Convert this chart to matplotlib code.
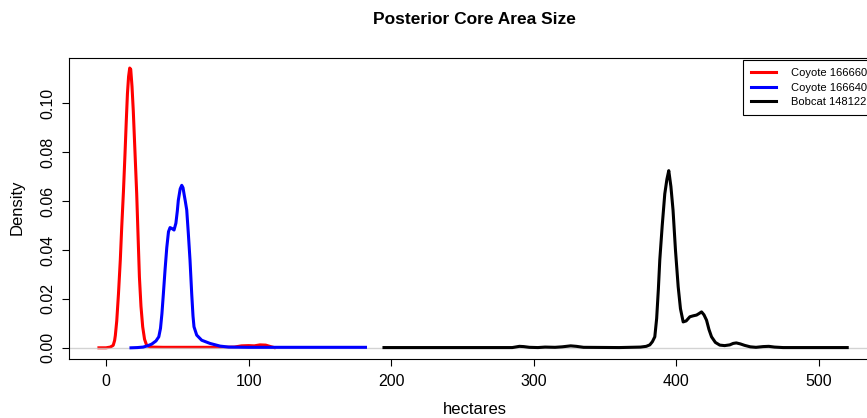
import matplotlib
matplotlib.use("Agg")
import matplotlib.pyplot as plt

plt.rcParams['font.family'] = ['Liberation Sans', 'DejaVu Sans']

title = "Posterior Core Area Size"
xlabel = "hectares"
ylabel = "Density"
labels = ["Coyote 166660", "Coyote 166640", "Bobcat 148122"]
colors = ["#ff0000", "#0000ff", "#000000"]

red_x = [-5, 0, 3, 5, 6, 6.5, 7.5, 8.7, 10, 11, 12.2, 13.3, 14.2, 15, 15.8, 16.6, 17.3,
         18.2, 19.1, 20.3, 21.5, 22.5, 23.4, 24.5, 25.7, 27, 28.5, 31, 40, 60, 80, 90,
         95, 100, 104, 108, 112, 116, 118]
red_y = [0.0, 0.0, 0.0003, 0.001, 0.003, 0.005, 0.011, 0.022, 0.036, 0.0495, 0.064,
         0.0795, 0.093, 0.104, 0.111, 0.1145, 0.114, 0.107, 0.097, 0.08, 0.063, 0.045,
         0.029, 0.017, 0.0086, 0.0035, 0.001, 0.0003, 0.0002, 0.0002, 0.0002, 0.0003,
         0.0008, 0.0009, 0.0008, 0.0012, 0.0011, 0.0004, 0.0001]

blue_x = [17.5, 22, 26, 29, 32, 35, 37, 38.2, 39.2, 40.2, 41.4, 42.6, 43.8, 44.9, 46.3,
          47.7, 49, 50, 50.7, 52, 53.1, 54, 54.7, 55.6, 56.6, 57.7, 58.9, 60.1, 61,
          61.7, 63.6, 67.1, 72.9, 80, 86, 100, 140, 182]
blue_y = [0.0, 0.0001, 0.0003, 0.0008, 0.0015, 0.0028, 0.0045, 0.008, 0.014, 0.022,
          0.032, 0.041, 0.0475, 0.0492, 0.0488, 0.0482, 0.051, 0.056, 0.0604, 0.065,
          0.0665, 0.0655, 0.063, 0.060, 0.0564, 0.047, 0.0359, 0.022, 0.013, 0.0086,
          0.0052, 0.0031, 0.0018, 0.0007, 0.0003, 0.0002, 0.0002, 0.0002]

black_x = [195, 250, 285, 290, 293, 297, 303, 308, 315, 320, 326, 330, 335, 360, 375,
           379, 381.5, 383.3, 385, 386.3, 387.5, 388.5, 390.2, 392, 393.5, 394.8, 396.3,
           397.8, 399.5, 401.4, 403, 404.9, 407, 409.6, 412, 414.3, 416, 417.8, 419.5,
           421.3, 423, 424.8, 427.5, 430.6, 434, 437.6, 440, 442.2, 445, 448, 452, 456,
           461, 465, 469, 475, 520]
black_y = [0.0001, 0.0001, 0.0001, 0.0006, 0.0005, 0.0002, 0.0001, 0.0003, 0.0002,
           0.0004, 0.0008, 0.0006, 0.0002, 0.0001, 0.0003, 0.0006, 0.0012, 0.0025,
           0.0045, 0.012, 0.024, 0.036, 0.050, 0.063, 0.069, 0.0725, 0.066, 0.0563,
           0.040, 0.025, 0.016, 0.0106, 0.011, 0.0127, 0.0131, 0.0134, 0.014, 0.0147,
           0.0135, 0.0113, 0.0075, 0.0045, 0.0022, 0.0011, 0.0009, 0.0012, 0.0018,
           0.002, 0.0016, 0.001, 0.0004, 0.0002, 0.0005, 0.0006, 0.0003, 0.0001, 0.0001]

xticks = [0, 100, 200, 300, 400, 500]
yticks = [0.00, 0.02, 0.04, 0.06, 0.08, 0.10]

W, H = 867, 418
fig = plt.figure(figsize=(W / 100, H / 100), dpi=100)
ax = fig.add_axes([69 / W, 1 - 359 / H, (880 - 69) / W, (359 - 58) / H])

lw = 2.2
l1, = ax.plot(red_x, red_y, color=colors[0], lw=lw, zorder=2, label=labels[0])
ax.axhline(0, color="#c8c8c8", lw=1.0, alpha=0.8, zorder=2.5)
l2, = ax.plot(blue_x, blue_y, color=colors[1], lw=lw, zorder=3, label=labels[1])
l3, = ax.plot(black_x, black_y, color=colors[2], lw=lw, zorder=3, label=labels[2])

ax.set_xlim(-26, 543)
ax.set_ylim(-0.00458, 0.1186)
ax.set_xticks(xticks)
ax.set_xticklabels([str(t) for t in xticks])
ax.set_yticks(yticks)
ax.set_yticklabels([f"{t:.2f}" for t in yticks], rotation=90, va="center")
ax.tick_params(axis="both", direction="out", length=5, width=0.8, labelsize=11.5,
               colors="black")
ax.tick_params(axis="x", pad=6)
ax.tick_params(axis="y", pad=5)
for s in ax.spines.values():
    s.set_linewidth(0.8)
    s.set_color("black")

fig.text(474.5 / W, 1 - 20 / H, title, ha="center", va="center",
         fontsize=12.5, fontweight="bold")
fig.text(474.5 / W, 1 - 410 / H, xlabel, ha="center", va="center", fontsize=12)
fig.text(16.7 / W, 1 - 207 / H, ylabel, ha="center", va="center", fontsize=12,
         rotation=90)

leg = fig.legend(handles=[l1, l2, l3], loc="upper left",
                 bbox_to_anchor=(743 / W, 1 - 60 / H), fontsize=8,
                 frameon=True, fancybox=False, borderpad=0.75, handlelength=2.2,
                 handletextpad=1.4, labelspacing=0.38, borderaxespad=0)
leg.get_frame().set_edgecolor("black")
leg.get_frame().set_linewidth(0.8)
leg.get_frame().set_alpha(1)

fig.savefig("out.png", dpi=100)
